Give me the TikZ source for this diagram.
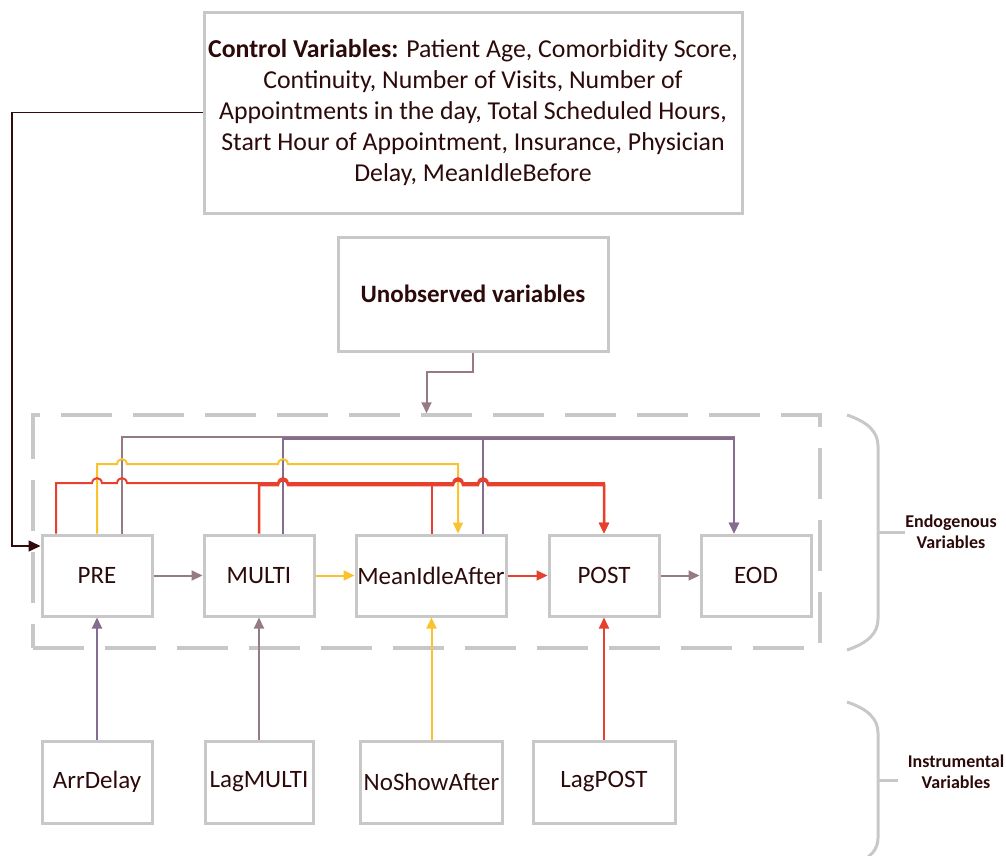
\documentclass[tikz,border=0pt]{standalone}
\usepackage{fontspec}
\setmainfont{Carlito}
\usetikzlibrary{arrows.meta,calc}
\definecolor{cred}{RGB}{232,64,46}
\definecolor{cyel}{RGB}{250,195,45}
\definecolor{cpur}{RGB}{133,108,145}
\definecolor{cmau}{RGB}{150,124,130}
\definecolor{cgray}{RGB}{200,200,200}
\definecolor{ctext}{RGB}{45,10,10}
\definecolor{cdark}{RGB}{50,12,12}
\tikzset{
  box/.style={draw=cgray, line width=3pt, rectangle, inner sep=0pt, text=ctext,
    font=\fontsize{25}{31}\selectfont, align=center},
  grp/.style={draw=cgray, line width=3.5pt, rectangle, inner sep=0pt, dash pattern=on 51pt off 21pt},
  brace/.style={draw=cgray, line width=3pt},
  lbl/.style={text=ctext, font=\fontsize{18}{21}\selectfont\bfseries, align=center},
  tip/.style={-{Triangle[length=11pt,width=10pt]}},
  redl/.style={draw=cred, line width=2pt},
  yell/.style={draw=cyel, line width=2pt},
  purl/.style={draw=cpur, line width=2pt},
  maul/.style={draw=cmau, line width=2pt},
  ctrll/.style={draw=cdark, line width=1.6pt, -{Triangle[length=12pt,width=11pt]}},
}
\begin{document}
\begin{tikzpicture}[x=1pt,y=-1pt]
\useasboundingbox (0,0) rectangle (1006,855);

% group frame
\node[grp, minimum width=787pt, minimum height=233pt] (endo) at (426.5,531.5) {};

% boxes
\node[box, font=\fontsize{25.8}{31}\selectfont, minimum width=538pt, minimum height=201pt] (ctrl) at (473,112.5)
 {\textbf{Control Variables:} Patient Age, Comorbidity Score,\\ Continuity, Number of Visits, Number of\\ Appointments in the day, Total Scheduled Hours,\\ Start Hour of Appointment, Insurance, Physician\\ Delay, MeanIdleBefore};
\node[box, minimum width=270pt, minimum height=114pt] (unobs) at (473,294) {\textbf{Unobserved variables}};

\node[box, minimum width=110pt, minimum height=81pt] (pre) at (97,575.5) {PRE};
\node[box, minimum width=110pt, minimum height=81pt] (multi) at (259,575.5) {MULTI};
\node[box, minimum width=150pt, minimum height=81pt] (mia) at (431,575.5) {MeanIdleAfter};
\node[box, minimum width=110pt, minimum height=81pt] (post) at (604,575.5) {POST};
\node[box, minimum width=110pt, minimum height=81pt] (eod) at (756,575.5) {EOD};

\node[box, minimum width=110pt, minimum height=82pt] (arr) at (97,782) {ArrDelay};
\node[box, minimum width=108pt, minimum height=82pt] (lagm) at (259,782) {LagMULTI};
\node[box, minimum width=142pt, minimum height=82pt] (nosh) at (431.5,782) {NoShowAfter};
\node[box, minimum width=142pt, minimum height=82pt] (lagp) at (604,782) {LagPOST};

% braces and labels
\draw[brace] (847,415) .. controls (868,422) and (878,432) .. (878,446) -- (878,619)
  .. controls (878,633) and (868,643) .. (847,650);
\draw[brace] (878,532) -- (905,532);
\node[lbl] (endolbl) at (951,532) {Endogenous\\Variables};
\draw[brace] (847,702) .. controls (868,709) and (878,719) .. (878,733) -- (878,838)
  .. controls (878,850) and (870,858) .. (855,864);
\draw[brace] (878,780) -- (898,780);
\node[lbl] (instlbl) at (956,772) {Instrumental\\Variables};

% control -> PRE
\draw[ctrll] (ctrl.west) -| (12,546) -- ([yshift=29.5pt]pre.west);

% unobserved -> group
\draw[maul, tip] (unobs.south) -- ++(0,19) -| (endo.north);

% top bus: purple lines to EOD
\draw[maul, tip] ([xshift=25pt]pre.north) -- (122,437) -- (734,437) -- ([xshift=-22pt]eod.north);
\draw[purl, line width=2.5pt, tip] ([xshift=24pt]multi.north) -- (283,438.5) -- (734,438.5) -- ([xshift=-22pt]eod.north);
\draw[purl] ([xshift=52pt]mia.north) -- (483,438.5);

% yellow PRE -> MeanIdleAfter
\draw[yell, tip] (pre.north) -- (97,464) -- (117,464)
  .. controls (118,457.5) and (126,457.5) .. (127,464) -- (278,464)
  .. controls (279,457.5) and (287,457.5) .. (288,464) -- (458,464) -- ([xshift=27pt]mia.north);

% red PRE -> POST
\draw[redl, tip] ([xshift=-41pt]pre.north) -- (56,483) -- (92,483)
  .. controls (93,476.5) and (101,476.5) .. (102,483) -- (117,483)
  .. controls (118,476.5) and (126,476.5) .. (127,483) -- (278,483)
  .. controls (279,476.5) and (287,476.5) .. (288,483) -- (453,483)
  .. controls (454,476.5) and (462,476.5) .. (463,483) -- (478,483)
  .. controls (479,476.5) and (487,476.5) .. (488,483) -- (604,483) -- (post.north);
% red MULTI -> POST
\draw[redl, line width=2.5pt, tip] (multi.north) -- (259,485) -- (278,485)
  .. controls (279,478.5) and (287,478.5) .. (288,485) -- (453,485)
  .. controls (454,478.5) and (462,478.5) .. (463,485) -- (478,485)
  .. controls (479,478.5) and (487,478.5) .. (488,485) -- (604,485) -- (post.north);
\draw[redl] ([xshift=1pt]mia.north) -- (432,485);

% chain arrows
\draw[maul, tip] (pre.east) -- (multi.west);
\draw[yell, tip] (multi.east) -- (mia.west);
\draw[redl, tip] (mia.east) -- (post.west);
\draw[maul, tip] (post.east) -- (eod.west);

% instruments
\draw[purl, tip] (arr.north) -- (pre.south);
\draw[maul, tip] (lagm.north) -- (multi.south);
\draw[yell, tip] (nosh.north) -- (nosh.north |- mia.south);
\draw[redl, tip] (lagp.north) -- (post.south);
\end{tikzpicture}
\end{document}
